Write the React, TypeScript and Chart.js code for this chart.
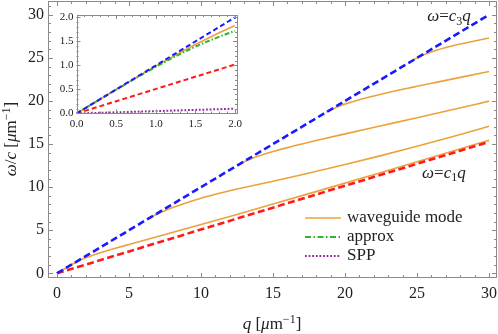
import React, { useEffect, useRef } from "react";
import { Chart, registerables } from "chart.js";
Chart.register(...registerables);

// ---------- data ----------
const lineQ = [0, 30];
const c3Line = [0, 30];
const c1Line = [0, 15.25];

const mode0Q = [0, 0.5, 1, 1.5, 2, 2.5, 3, 4, 5, 6.5, 8, 10, 12.5, 15, 17.5, 20, 22.5, 25, 27.5, 30];
const mode0W = [0, 0.5, 0.99, 1.44, 1.8, 2.1, 2.38, 2.88, 3.35, 4.04, 4.73, 5.66, 6.84, 8.04, 9.25, 10.47, 11.7, 12.94, 14.19, 15.45];
const mode1Q = [6.3, 6.8, 7.4, 8, 9, 10, 11, 12, 13.4, 15, 17, 20, 22.5, 25, 27.5, 30];
const mode1W = [6.3, 6.75, 7.2, 7.6, 8.2, 8.72, 9.17, 9.58, 10.1, 10.68, 11.44, 12.63, 13.66, 14.74, 15.88, 17.07];
const mode2Q = [12.6, 13, 13.5, 14, 15, 16, 17, 18, 20, 22.5, 25, 27.5, 30];
const mode2W = [12.6, 12.95, 13.31, 13.61, 14.13, 14.59, 15.01, 15.41, 16.18, 17.12, 18.06, 19.01, 19.98];
const mode3Q = [18.7, 19.1, 19.6, 20.2, 21, 22, 23, 24, 25, 26.5, 28, 30];
const mode3W = [18.7, 19.05, 19.4, 19.75, 20.15, 20.58, 20.98, 21.35, 21.7, 22.22, 22.74, 23.43];
const mode4Q = [24.8, 25.2, 25.7, 26.3, 27, 28, 29, 30];
const mode4W = [24.8, 25.15, 25.5, 25.85, 26.2, 26.6, 26.95, 27.3];

const insetLineQ = [0, 2];
const insetC3 = [0, 2];
const insetC1 = [0, 1.02];
const insetSPP = [0, 0.1];
const insetModeQ = [0, 0.25, 0.5, 0.75, 1, 1.25, 1.5, 1.75, 2];
const insetModeW = [0, 0.25, 0.5, 0.745, 0.985, 1.215, 1.435, 1.64, 1.83];
const insetApproxW = [0, 0.25, 0.495, 0.735, 0.97, 1.19, 1.39, 1.565, 1.72];

const xTicks = [0, 5, 10, 15, 20, 25, 30];
const yTicks = [0, 5, 10, 15, 20, 25, 30];
const xMinor = Array.from({ length: 31 }, (_, i) => i);
const yMinor = Array.from({ length: 32 }, (_, i) => i);
const insetTicks = [0, 0.5, 1.0, 1.5, 2.0];
const insetMinor = Array.from({ length: 21 }, (_, i) => i / 10);

const legendLabels = ["waveguide mode", "approx", "SPP"];

// ---------- styles ----------
const FONT = "'Liberation Serif', 'Times New Roman', serif";
const ORANGE = "#eba23c";
const BLUE = "#1a1aff";
const RED = "#ff1a1a";
const GREEN = "#2fb52f";
const PURPLE = "#8e2a9c";
const FRAME = "#8a8a8a";
const TEXT = "#222";

const pts = (xs: number[], ys: number[]) => xs.map((x, i) => ({ x, y: ys[i] }));

type Part = { t: string; i?: boolean; sub?: boolean; sup?: boolean };

function drawRich(ctx: CanvasRenderingContext2D, parts: Part[], x: number, y: number, size: number, align: "left" | "center") {
  const fontOf = (p: Part) => `${p.i ? "italic " : ""}${p.sub || p.sup ? Math.round(size * 0.7) : size}px ${FONT}`;
  let w = 0;
  for (const p of parts) {
    ctx.font = fontOf(p);
    w += ctx.measureText(p.t).width;
  }
  let cx = align === "center" ? x - w / 2 : x;
  const base = y + size * 0.32;
  ctx.textBaseline = "alphabetic";
  ctx.textAlign = "left";
  for (const p of parts) {
    ctx.font = fontOf(p);
    const dy = p.sub ? size * 0.22 : p.sup ? -size * 0.38 : 0;
    ctx.fillText(p.t, cx, base + dy);
    cx += ctx.measureText(p.t).width;
  }
}

function drawFrameTicks(chart: any, major: [number[], number[]], minor: [number[], number[]], majLen: number, minLen: number) {
  const { ctx, chartArea: a, scales } = chart;
  const xs = scales.x, ys = scales.y;
  ctx.save();
  ctx.strokeStyle = FRAME;
  ctx.lineWidth = 1;
  ctx.setLineDash([]);
  ctx.strokeRect(Math.round(a.left) + 0.5, Math.round(a.top) + 0.5, Math.round(a.right - a.left) - 1, Math.round(a.bottom - a.top) - 1);
  ctx.beginPath();
  const doX = (vals: number[], len: number) => {
    for (const v of vals) {
      const px = Math.round(xs.getPixelForValue(v)) + 0.5;
      if (px < a.left || px > a.right) continue;
      ctx.moveTo(px, a.bottom); ctx.lineTo(px, a.bottom - len);
      ctx.moveTo(px, a.top); ctx.lineTo(px, a.top + len);
    }
  };
  const doY = (vals: number[], len: number) => {
    for (const v of vals) {
      const py = Math.round(ys.getPixelForValue(v)) + 0.5;
      if (py < a.top || py > a.bottom) continue;
      ctx.moveTo(a.left, py); ctx.lineTo(a.left + len, py);
      ctx.moveTo(a.right, py); ctx.lineTo(a.right - len, py);
    }
  };
  doX(major[0], majLen); doY(major[1], majLen);
  doX(minor[0].filter((v) => !major[0].includes(v)), minLen);
  doY(minor[1].filter((v) => !major[1].includes(v)), minLen);
  ctx.stroke();
  ctx.restore();
}

const mainDecor = {
  id: "mainDecor",
  afterDraw(chart: any) {
    const { ctx, scales } = chart;
    drawFrameTicks(chart, [xTicks, yTicks], [xMinor, yMinor], 5, 3);
    ctx.save();
    ctx.fillStyle = TEXT;
    drawRich(ctx, [{ t: "q", i: true }, { t: " [" }, { t: "μ", i: true }, { t: "m" }, { t: "−1", sup: true }, { t: "]" }], 272, 324, 17, "center");
    ctx.save();
    ctx.translate(11, 139);
    ctx.rotate(-Math.PI / 2);
    drawRich(ctx, [{ t: "ω", i: true }, { t: "/" }, { t: "c", i: true }, { t: " [" }, { t: "μ", i: true }, { t: "m" }, { t: "−1", sup: true }, { t: "]" }], 0, 0, 17, "center");
    ctx.restore();
    const xs = scales.x, ys = scales.y;
    drawRich(ctx, [{ t: "ω", i: true }, { t: "=" }, { t: "c", i: true }, { t: "3", sub: true }, { t: "q", i: true }], xs.getPixelForValue(25.7), ys.getPixelForValue(29.9), 17, "left");
    drawRich(ctx, [{ t: "ω", i: true }, { t: "=" }, { t: "c", i: true }, { t: "1", sub: true }, { t: "q", i: true }], xs.getPixelForValue(25.35), ys.getPixelForValue(11.75), 17, "left");
    const rows = [
      { color: ORANGE, dash: [] as number[], w: 1.6 },
      { color: GREEN, dash: [6, 2.5, 1.5, 2.5], w: 2 },
      { color: PURPLE, dash: [1.8, 1.8], w: 2 },
    ];
    const rowY = [218, 237, 256];
    rows.forEach((r, i) => {
      ctx.beginPath();
      ctx.strokeStyle = r.color;
      ctx.lineWidth = r.w;
      ctx.setLineDash(r.dash);
      ctx.moveTo(305, rowY[i]);
      ctx.lineTo(341, rowY[i]);
      ctx.stroke();
      ctx.setLineDash([]);
      ctx.fillStyle = TEXT;
      drawRich(ctx, [{ t: legendLabels[i] }], 347, rowY[i] - 1, 17, "left");
    });
    ctx.restore();
  },
};

const insetDecor = {
  id: "insetDecor",
  beforeDraw(chart: any) {
    const { ctx, width, height } = chart;
    ctx.save();
    ctx.fillStyle = "#fff";
    ctx.fillRect(0, 0, width, height);
    ctx.restore();
  },
  afterDraw(chart: any) {
    drawFrameTicks(chart, [insetTicks, insetTicks], [insetMinor, insetMinor], 4, 2);
  },
};

const modeStyle = { borderColor: ORANGE, borderWidth: 1.6, pointRadius: 0, fill: false, cubicInterpolationMode: "monotone" as const };

const noPadX = (h: number) => (s: any) => { s.height = h; s.paddingLeft = 0; s.paddingRight = 0; };
const noPadY = (w: number) => (s: any) => { s.width = w; s.paddingTop = 0; s.paddingBottom = 0; };

export default function App() {
  const mainRef = useRef<HTMLCanvasElement>(null);
  const insetRef = useRef<HTMLCanvasElement>(null);

  useEffect(() => {
    const tickFont = { family: FONT, size: 16 };
    const main = new Chart(mainRef.current!, {
      type: "line",
      data: {
        datasets: [
          { data: pts(lineQ, c3Line), borderColor: BLUE, borderWidth: 2.6, borderDash: [7, 3.5], pointRadius: 0 },
          { data: pts(lineQ, c1Line), borderColor: RED, borderWidth: 2.6, borderDash: [7, 3.5], pointRadius: 0 },
          { data: pts(mode0Q, mode0W), ...modeStyle },
          { data: pts(mode1Q, mode1W), ...modeStyle },
          { data: pts(mode2Q, mode2W), ...modeStyle },
          { data: pts(mode3Q, mode3W), ...modeStyle },
          { data: pts(mode4Q, mode4W), ...modeStyle },
        ] as any,
      },
      options: {
        responsive: false,
        animation: false,
        devicePixelRatio: 1,
        parsing: false as any,
        layout: { padding: { top: 1, right: 1, left: 0, bottom: 0 } },
        plugins: { legend: { display: false }, tooltip: { enabled: false } },
        scales: {
          x: {
            type: "linear",
            min: -0.62,
            max: 30.55,
            grid: { display: false, drawTicks: false },
            border: { display: false },
            ticks: { font: tickFont, color: TEXT, padding: 6, maxRotation: 0 },
            afterBuildTicks: (s: any) => { s.ticks = xTicks.map((v) => ({ value: v })); },
            afterFit: noPadX(56),
          },
          y: {
            type: "linear",
            min: -0.54,
            max: 31.6,
            grid: { display: false, drawTicks: false },
            border: { display: false },
            ticks: { font: tickFont, color: TEXT, padding: 4 },
            afterBuildTicks: (s: any) => { s.ticks = yTicks.map((v) => ({ value: v })); },
            afterFit: noPadY(48),
          },
        },
      },
      plugins: [mainDecor],
    });

    const insetFont = { family: FONT, size: 11 };
    const inset = new Chart(insetRef.current!, {
      type: "line",
      data: {
        datasets: [
          { data: pts(insetLineQ, insetC3), borderColor: BLUE, borderWidth: 2, borderDash: [5, 3], pointRadius: 0 },
          { data: pts(insetModeQ, insetApproxW), borderColor: GREEN, borderWidth: 2, borderDash: [5, 2, 1.5, 2], pointRadius: 0, cubicInterpolationMode: "monotone" },
          { data: pts(insetModeQ, insetModeW), borderColor: ORANGE, borderWidth: 1.6, pointRadius: 0, cubicInterpolationMode: "monotone" },
          { data: pts(insetLineQ, insetC1), borderColor: RED, borderWidth: 2, borderDash: [5, 3], pointRadius: 0 },
          { data: pts(insetLineQ, insetSPP), borderColor: PURPLE, borderWidth: 2, borderDash: [1.8, 1.8], pointRadius: 0 },
        ] as any,
      },
      options: {
        responsive: false,
        animation: false,
        devicePixelRatio: 1,
        parsing: false as any,
        layout: { padding: { top: 7, right: 5, left: 0, bottom: 0 } },
        plugins: { legend: { display: false }, tooltip: { enabled: false } },
        scales: {
          x: {
            type: "linear",
            min: 0,
            max: 2.025,
            grid: { display: false, drawTicks: false },
            border: { display: false },
            ticks: { font: insetFont, color: TEXT, padding: 4, maxRotation: 0, callback: (v: any) => Number(v).toFixed(1) },
            afterBuildTicks: (s: any) => { s.ticks = insetTicks.map((v) => ({ value: v })); },
            afterFit: noPadX(22.5),
          },
          y: {
            type: "linear",
            min: 0,
            max: 2.05,
            grid: { display: false, drawTicks: false },
            border: { display: false },
            ticks: { font: insetFont, color: TEXT, padding: 3, callback: (v: any) => Number(v).toFixed(1) },
            afterBuildTicks: (s: any) => { s.ticks = insetTicks.map((v) => ({ value: v })); },
            afterFit: noPadY(20.5),
          },
        },
      },
      plugins: [insetDecor],
    });

    return () => {
      main.destroy();
      inset.destroy();
    };
  }, []);

  return (
    <div style={{ position: "fixed", left: 0, top: 0, width: 498, height: 334, background: "#fff" }}>
      <canvas ref={mainRef} width={498} height={334} style={{ position: "absolute", left: 0, top: 0, width: 498, height: 334 }} />
      <canvas ref={insetRef} width={186} height={128} style={{ position: "absolute", left: 56, top: 8, width: 186, height: 128 }} />
    </div>
  );
}
